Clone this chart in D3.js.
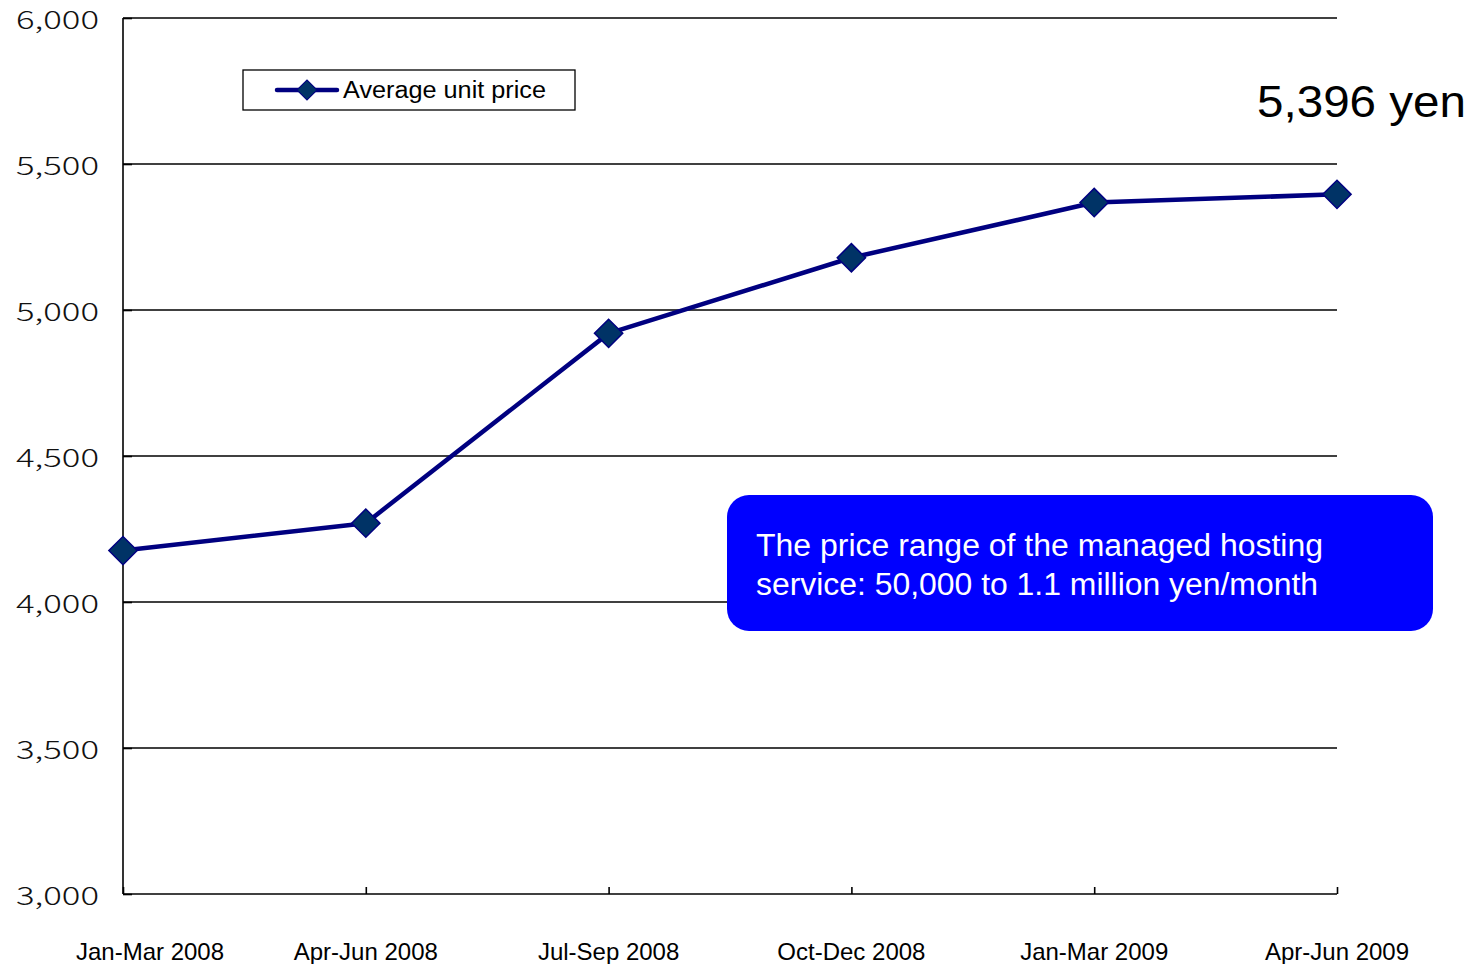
<!DOCTYPE html>
<html>
<head>
<meta charset="utf-8">
<script src="https://cdn.jsdelivr.net/npm/d3@7"></script>
<style>
  html, body { margin: 0; padding: 0; background: #fff; }
  svg { display: block; }
</style>
</head>
<body>
<div id="chart"></div>
<script>
// Quarterly periods shown along the x axis
const quarters = ["Jan-Mar 2008", "Apr-Jun 2008", "Jul-Sep 2008", "Oct-Dec 2008", "Jan-Mar 2009", "Apr-Jun 2009"];
// Average unit price (yen) per quarter
const avgPrice = [4176, 4270, 4920, 5179, 5368, 5396];
// Y axis tick values
const yTicks = [3000, 3500, 4000, 4500, 5000, 5500, 6000];
const seriesName = "Average unit price";
const calloutLines = ["The price range of the managed hosting", "service: 50,000 to 1.1 million yen/month"];
const lastLabel = "5,396 yen";

const W = 1478, H = 964;
const svg = d3.select("#chart").append("svg").attr("width", W).attr("height", H);

const x = d3.scalePoint().domain(quarters).range([123, 1337]);
const y = d3.scaleLinear().domain([3000, 6000]).range([894, 18]);

const lineColor = "#000080", markerFill = "#003366";

// Horizontal gridlines
svg.append("g").selectAll("line").data(yTicks.slice(1)).join("line")
  .attr("x1", x.range()[0]).attr("x2", x.range()[1])
  .attr("y1", d => y(d)).attr("y2", d => y(d))
  .attr("stroke", "#000").attr("stroke-width", 1.3);

// Y axis (inside ticks), labels drawn separately
const yAxis = svg.append("g").attr("transform", `translate(${x.range()[0]},0)`)
  .call(d3.axisRight(y).tickValues(yTicks).tickSize(9).tickFormat(""));
yAxis.select(".domain").attr("stroke", "#000").attr("stroke-width", 1.6).attr("d", `M0,${y(6000)}V${y(3000)}`);
yAxis.selectAll(".tick line").attr("stroke", "#000").attr("stroke-width", 1.6);

svg.append("g").selectAll("text").data(yTicks).join("text")
  .attr("x", 99).attr("y", d => y(d) + 11)
  .attr("text-anchor", "end")
  .attr("font-family", "'Noto Sans CJK JP', 'Noto Sans', sans-serif")
  .attr("font-weight", 300)
  .attr("font-size", 25)
  .attr("textLength", 83).attr("lengthAdjust", "spacingAndGlyphs")
  .attr("fill", "#111")
  .text(d => d3.format(",")(d));

// X axis (inside ticks)
const xAxis = svg.append("g").attr("transform", `translate(0,${y(3000)})`)
  .call(d3.axisTop(x).tickSize(7).tickFormat(""));
xAxis.select(".domain").attr("stroke", "#000").attr("stroke-width", 1.6).attr("d", `M${x.range()[0]},0H${x.range()[1]}`);
xAxis.selectAll(".tick line").attr("stroke", "#000").attr("stroke-width", 1.6);

svg.append("g").selectAll("text").data(quarters).join("text")
  .attr("x", (d, i) => x(d) + (i === 0 ? 27 : 0))
  .attr("y", 960)
  .attr("text-anchor", "middle")
  .attr("font-family", "'Liberation Sans', Arial, sans-serif")
  .attr("font-size", 24)
  .attr("fill", "#000")
  .text(d => d);

// Data line
const data = quarters.map((q, i) => ({ q, v: avgPrice[i] }));
svg.append("path").datum(data)
  .attr("fill", "none").attr("stroke", lineColor).attr("stroke-width", 4.5)
  .attr("stroke-linejoin", "round")
  .attr("d", d3.line().x(d => x(d.q)).y(d => y(d.v)));

const diamond = d3.symbol().type(d3.symbolSquare).size(400);
svg.append("g").selectAll("path").data(data).join("path")
  .attr("transform", d => `translate(${x(d.q)},${y(d.v)}) rotate(45)`)
  .attr("d", diamond)
  .attr("fill", markerFill).attr("stroke", lineColor).attr("stroke-width", 1.5);

// Legend
const lg = svg.append("g");
lg.append("rect").attr("x", 243).attr("y", 70).attr("width", 332).attr("height", 40)
  .attr("fill", "#fff").attr("stroke", "#000").attr("stroke-width", 1.3);
lg.append("line").attr("x1", 277).attr("x2", 337).attr("y1", 90).attr("y2", 90)
  .attr("stroke", lineColor).attr("stroke-width", 4.5).attr("stroke-linecap", "round");
lg.append("path").attr("transform", "translate(307,90) rotate(45)")
  .attr("d", d3.symbol().type(d3.symbolSquare).size(200))
  .attr("fill", markerFill).attr("stroke", lineColor).attr("stroke-width", 1.2);
lg.append("text").attr("x", 343).attr("y", 98)
  .attr("font-family", "'Liberation Sans', Arial, sans-serif").attr("font-size", 23)
  .attr("textLength", 203).attr("lengthAdjust", "spacingAndGlyphs")
  .attr("fill", "#000").text(seriesName);

// Value label for the latest quarter
svg.append("text").attr("x", 1257).attr("y", 117)
  .attr("font-family", "'Liberation Sans', Arial, sans-serif").attr("font-size", 44)
  .attr("textLength", 209).attr("lengthAdjust", "spacingAndGlyphs")
  .attr("fill", "#000").text(lastLabel);

// Callout box
const cb = svg.append("g");
cb.append("rect").attr("x", 727).attr("y", 495).attr("width", 706).attr("height", 136)
  .attr("rx", 22).attr("ry", 22).attr("fill", "#0000FF");
cb.selectAll("text").data(calloutLines).join("text")
  .attr("x", 756).attr("y", (d, i) => 556 + i * 39)
  .attr("font-family", "'Liberation Sans', Arial, sans-serif").attr("font-size", 31)
  .attr("textLength", (d, i) => i === 0 ? 567 : 562).attr("lengthAdjust", "spacingAndGlyphs")
  .attr("fill", "#fff").text(d => d);
</script>
</body>
</html>
